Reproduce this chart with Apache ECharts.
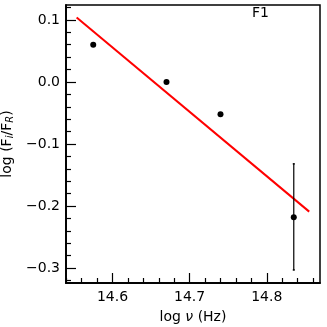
<!DOCTYPE html>
<html><head><meta charset="utf-8">
<script src="https://cdn.jsdelivr.net/npm/echarts@6/dist/echarts.min.js"></script>
<style>html,body{margin:0;padding:0;background:#fff}#c{width:327px;height:327px}</style>
</head><body><div id="c"></div>
<script>
const logNu = [14.575, 14.670, 14.740, 14.835];
const logRatio = [0.060, 0.000, -0.052, -0.218];
const errLow = [null, null, null, -0.303];
const errHigh = [null, null, null, -0.132];
const fitX = [14.5535, 14.855];
const fitY = [0.104, -0.209];
const xMajor = [14.6, 14.7, 14.8];
const xMinor = [14.54, 14.56, 14.58, 14.62, 14.64, 14.66, 14.68, 14.72, 14.74, 14.76, 14.78, 14.82, 14.84, 14.86];
const yMajor = [-0.3, -0.2, -0.1, 0.0, 0.1];
const yMinor = [-0.32, -0.28, -0.26, -0.24, -0.22, -0.18, -0.16, -0.14, -0.12, -0.08, -0.06, -0.04, -0.02, 0.02, 0.04, 0.06, 0.08, 0.12];
const xRange = [14.5397, 14.869];
const yRange = [-0.324, 0.124];

const font = 'DejaVu Sans';
const fs = 14;
const chart = echarts.init(document.getElementById('c'));
const fmtY = v => { const s = v.toFixed(1); return s.startsWith('-') ? '\u2212' + s.slice(1) : s; };
const baseAxis = {
  type: 'value', splitLine: {show: false},
  axisLine: {show: true, onZero: false, lineStyle: {color: '#000', width: 1.5}},
};
chart.setOption({
  animation: false,
  grid: {left: 66, top: 5, right: 7, bottom: 44, show: true, borderColor: '#000', borderWidth: 1.5, containLabel: false, outerBoundsMode: 'none'},
  xAxis: [
    Object.assign({}, baseAxis, {position: 'bottom', min: xRange[0], max: xRange[1],
      axisTick: {inside: true, length: 10, lineStyle: {color: '#000', width: 1.2}, customValues: xMajor},
      axisLabel: {customValues: xMajor, color: '#000', fontFamily: font, fontSize: fs, margin: 7, formatter: v => v.toFixed(1)},
      name: '{a|log }{i|ν}{a| (Hz)}', nameLocation: 'middle', nameGap: 27,
      nameTextStyle: {rich: {a: {fontFamily: font, fontSize: fs, color: '#000'}, i: {fontFamily: font, fontStyle: 'italic', fontSize: fs, color: '#000'}}}
    }),
    Object.assign({}, baseAxis, {position: 'bottom', min: xRange[0], max: xRange[1],
      axisTick: {inside: true, length: 5, lineStyle: {color: '#000', width: 1.2}, customValues: xMinor},
      axisLabel: {show: false}})
  ],
  yAxis: [
    Object.assign({}, baseAxis, {position: 'left', min: yRange[0], max: yRange[1],
      axisTick: {inside: true, length: 10, lineStyle: {color: '#000', width: 1.2}, customValues: yMajor},
      axisLabel: {customValues: yMajor, color: '#000', fontFamily: font, fontSize: fs, margin: 6, formatter: fmtY},
      name: '{a|log (F}{s|i}{a|/F}{s|R}{a|)}', nameLocation: 'middle', nameGap: 48, nameRotate: 90,
      nameTextStyle: {rich: {a: {fontFamily: font, fontSize: fs, color: '#000'}, s: {fontFamily: font, fontStyle: 'italic', fontSize: 10, color: '#000', verticalAlign: 'bottom', padding: [6, 0, 0, 0]}}}
    }),
    Object.assign({}, baseAxis, {position: 'left', min: yRange[0], max: yRange[1],
      axisTick: {inside: true, length: 5, lineStyle: {color: '#000', width: 1.2}, customValues: yMinor},
      axisLabel: {show: false}})
  ],
  graphic: [{type: 'text', left: 252, top: 6, style: {text: 'F1', fontFamily: font, fontSize: fs, fill: '#000'}}],
  series: [
    {type: 'line', data: fitX.map((x, i) => [x, fitY[i]]), symbol: 'none', lineStyle: {color: '#ff0000', width: 2}, z: 2},
    {type: 'custom', z: 3, data: logNu.map((x, i) => [x, errLow[i], errHigh[i]]).filter(d => d[1] !== null),
      renderItem: (params, api) => {
        const p1 = api.coord([api.value(0), api.value(1)]);
        const p2 = api.coord([api.value(0), api.value(2)]);
        return {type: 'group', children: [
          {type: 'line', shape: {x1: p1[0], y1: p1[1], x2: p2[0], y2: p2[1]}, style: {stroke: '#000', lineWidth: 1.2}},
          {type: 'line', shape: {x1: p1[0] - 1, y1: p1[1], x2: p1[0] + 1, y2: p1[1]}, style: {stroke: '#000', lineWidth: 1.5}},
          {type: 'line', shape: {x1: p2[0] - 1, y1: p2[1], x2: p2[0] + 1, y2: p2[1]}, style: {stroke: '#000', lineWidth: 1.5}}
        ]};
      }},
    {type: 'scatter', data: logNu.map((x, i) => [x, logRatio[i]]), symbolSize: 6, itemStyle: {color: '#000', opacity: 1}, z: 4}
  ]
});
</script></body></html>
